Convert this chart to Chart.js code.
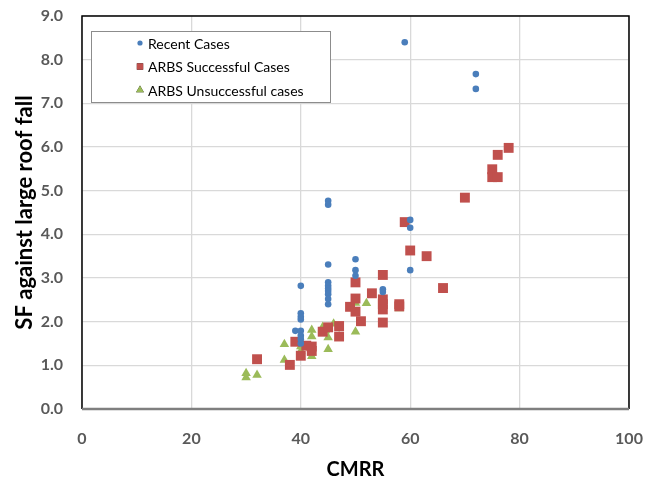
<!DOCTYPE html>
<html>
<head>
<meta charset="utf-8">
<script src="https://cdn.jsdelivr.net/npm/chart.js@4/dist/chart.umd.min.js"></script>
<style>
  body { margin: 0; background: #fff; }
  #wrap { width: 645px; height: 486px; }
</style>
</head>
<body>
<div id="wrap"><canvas id="chart"></canvas></div>
<script>
// Recent cases
const recentX = [59, 72, 72, 45, 45, 45, 45, 45, 45, 45, 45, 45, 45, 50, 50, 50, 60, 60, 60, 55, 55, 40, 40, 40, 40, 39, 40, 40, 40, 40];
const recentY = [8.40, 7.67, 7.33, 4.77, 4.68, 3.31, 2.90, 2.82, 2.76, 2.70, 2.63, 2.52, 2.40, 3.43, 3.18, 3.05, 4.33, 4.15, 3.18, 2.74, 2.68, 2.82, 2.19, 2.11, 2.05, 1.79, 1.79, 1.68, 1.60, 1.50];

// ARBS successful cases
const successX = [78, 76, 75, 75, 76, 70, 59, 60, 63, 55, 66, 50, 53, 50, 55, 55, 55, 49, 50, 51, 55, 47, 47, 39, 42, 41, 42, 40, 38, 32, 44, 45, 58, 58];
const successY = [5.98, 5.82, 5.49, 5.31, 5.31, 4.84, 4.28, 3.63, 3.50, 3.07, 2.77, 2.90, 2.65, 2.53, 2.51, 2.40, 2.28, 2.34, 2.23, 2.01, 1.98, 1.90, 1.66, 1.54, 1.43, 1.45, 1.33, 1.22, 1.01, 1.14, 1.77, 1.87, 2.40, 2.35];

// ARBS unsuccessful cases
const failX = [30, 30, 32, 37, 37, 40, 40, 40, 42, 42, 42, 42, 44, 45, 45, 45, 46, 47, 50, 52, 50, 58, 44.5];
const failY = [0.72, 0.82, 0.78, 1.48, 1.12, 1.53, 1.43, 1.33, 1.81, 1.66, 1.29, 1.21, 1.88, 1.85, 1.64, 1.37, 1.95, 1.66, 2.43, 2.42, 1.77, 2.30, 1.80];

const seriesLabels = ['Recent Cases', 'ARBS Successful Cases', 'ARBS Unsuccessful cases'];
const xTicks = [0, 20, 40, 60, 80, 100];
const yTicks = [0, 1, 2, 3, 4, 5, 6, 7, 8, 9];

const toPoints = (xs, ys) => xs.map((x, i) => ({ x: x, y: ys[i] }));
const FONT = 'Lato, "Open Sans", sans-serif';

// box around the plot area plus the legend inside it
const framePlugin = {
    id: 'frame',
    afterDraw(chart) {
        const ctx = chart.ctx;
        const a = chart.chartArea;
        ctx.save();
        ctx.strokeStyle = '#000';
        ctx.lineWidth = 1.5;
        ctx.beginPath();
        ctx.moveTo(a.left, a.bottom);
        ctx.lineTo(a.left, a.top);
        ctx.lineTo(a.right, a.top);
        ctx.lineTo(a.right, a.bottom);
        ctx.stroke();
        ctx.strokeStyle = '#7f7f7f';
        ctx.lineWidth = 2.5;
        ctx.beginPath();
        ctx.moveTo(a.left, a.bottom);
        ctx.lineTo(a.right, a.bottom);
        ctx.stroke();

        // legend
        const bx = 91, by = 31, bw = 239, bh = 71;
        ctx.fillStyle = '#fff';
        ctx.fillRect(bx, by, bw, bh);
        ctx.strokeStyle = '#8c8c8c';
        ctx.lineWidth = 1;
        ctx.strokeRect(bx + 0.5, by + 0.5, bw, bh);
        ctx.font = '14px ' + FONT;
        ctx.textBaseline = 'middle';
        chart.data.datasets.forEach((ds, i) => {
            const y = 43 + i * 23.5;
            Chart.helpers.drawPoint(ctx, {
                pointStyle: ds.pointStyle,
                radius: ds.pointStyle === 'circle' ? 2.6 : 4.5,
                borderWidth: 0
            }, 140, y);
            ctx.fillStyle = ds.backgroundColor;
            ctx.fill();
            ctx.fillStyle = '#000';
            ctx.fillText(ds.label, 148, y + 1);
        });
        ctx.restore();
    }
};

new Chart(document.getElementById('chart'), {
    type: 'scatter',
    data: {
        datasets: [
            {
                label: seriesLabels[0],
                data: toPoints(recentX, recentY),
                pointStyle: 'circle',
                radius: 3.3,
                backgroundColor: '#4a7ebb',
                borderWidth: 0
            },
            {
                label: seriesLabels[1],
                data: toPoints(successX, successY),
                pointStyle: 'rect',
                radius: 7,
                backgroundColor: '#c0504d',
                borderWidth: 0
            },
            {
                label: seriesLabels[2],
                data: toPoints(failX, failY),
                pointStyle: 'triangle',
                radius: 5.5,
                backgroundColor: '#9bbb59',
                borderWidth: 0
            }
        ]
    },
    options: {
        responsive: true,
        maintainAspectRatio: false,
        animation: false,
        devicePixelRatio: 1,
        layout: { padding: { top: 16, right: 16, left: 0, bottom: 0 } },
        plugins: {
            legend: { display: false },
            tooltip: { enabled: false }
        },
        scales: {
            x: {
                type: 'linear',
                min: 0,
                max: 100,
                afterBuildTicks: (s) => { s.ticks = xTicks.map(v => ({ value: v })); },
                afterFit: (s) => {
                    s.height = 77;
                    s.paddingLeft = 0;
                    s.paddingRight = 0;
                },
                grid: { color: '#d9d9d9', lineWidth: 1.3, drawTicks: false },
                border: { display: false },
                ticks: {
                    padding: 20,
                    color: '#595959',
                    font: { family: FONT, size: 16, weight: 'bold' }
                },
                title: {
                    display: true,
                    text: 'CMRR',
                    color: '#000',
                    padding: { top: 0, bottom: 4 },
                    font: { family: FONT, size: 20, weight: 'bold' }
                }
            },
            y: {
                type: 'linear',
                min: 0,
                max: 9,
                afterBuildTicks: (s) => { s.ticks = yTicks.map(v => ({ value: v })); },
                afterFit: (s) => {
                    s.width = 82;
                    s.paddingTop = 0;
                    s.paddingBottom = 0;
                },
                grid: { color: '#d9d9d9', lineWidth: 1.3, drawTicks: false },
                border: { display: false },
                ticks: {
                    padding: 19,
                    color: '#595959',
                    font: { family: FONT, size: 16, weight: 'bold' },
                    callback: (v) => v.toFixed(1)
                },
                title: {
                    display: true,
                    text: 'SF against large roof fall',
                    color: '#000',
                    padding: { top: 12, bottom: 0 },
                    font: { family: FONT, size: 22, weight: 'bold' }
                }
            }
        }
    },
    plugins: [framePlugin]
});
</script>
</body>
</html>
